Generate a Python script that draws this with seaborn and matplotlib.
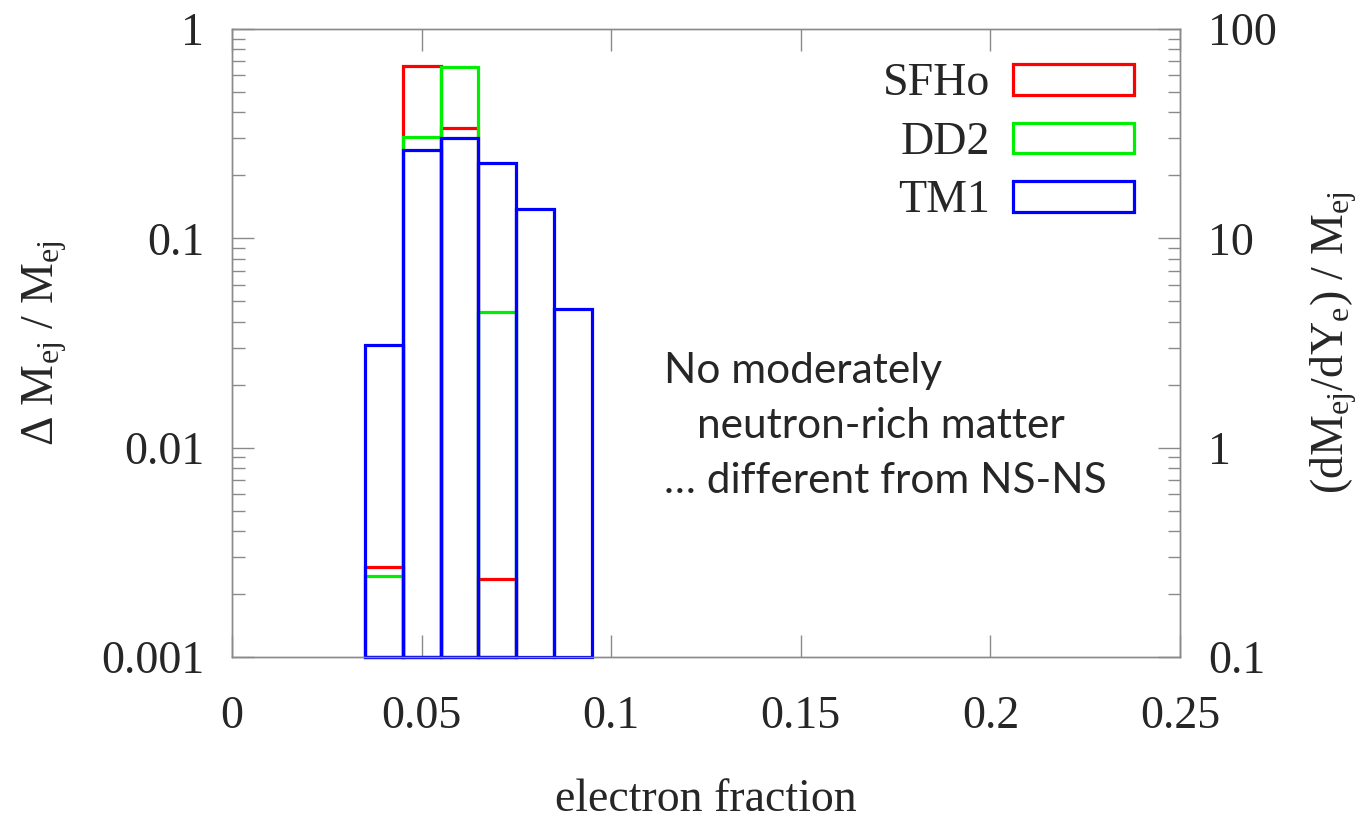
import numpy as np
import pandas as pd
import matplotlib
matplotlib.use("Agg")
import matplotlib.pyplot as plt
from matplotlib.patches import Patch
from matplotlib.ticker import FixedLocator, LogLocator, NullFormatter
import seaborn as sns

# Ejecta mass fraction per electron-fraction bin (bin width 0.01)
bin_width = 0.01
ye_sfho = [0.04, 0.05, 0.06, 0.07]
frac_sfho = [0.00268, 0.668, 0.338, 0.00236]
ye_dd2 = [0.04, 0.05, 0.06, 0.07]
frac_dd2 = [0.00243, 0.305, 0.66, 0.0443]
ye_tm1 = [0.04, 0.05, 0.06, 0.07, 0.08, 0.09]
frac_tm1 = [0.0309, 0.264, 0.303, 0.228, 0.138, 0.046]

models = ["SFHo", "DD2", "TM1"]
colors = {"SFHo": "#ff0000", "DD2": "#00ee00", "TM1": "#0000ff"}
series = {"SFHo": (ye_sfho, frac_sfho), "DD2": (ye_dd2, frac_dd2), "TM1": (ye_tm1, frac_tm1)}

x_ticks = [0, 0.05, 0.1, 0.15, 0.2, 0.25]
x_tick_labels = ["0", "0.05", "0.1", "0.15", "0.2", "0.25"]
y_ticks = [0.001, 0.01, 0.1, 1]
y_tick_labels = ["0.001", "0.01", "0.1", "1"]
y2_tick_labels = ["0.1", "1", "10", "100"]

sns.set_style("white")
plt.rcParams["font.family"] = ["Liberation Serif", "DejaVu Serif"]
plt.rcParams["mathtext.fontset"] = "custom"
plt.rcParams["mathtext.rm"] = "Liberation Serif"
plt.rcParams["mathtext.it"] = "Liberation Serif:italic"

frame_gray = "#8a8a8a"
fs = 33

fig = plt.figure(figsize=(13.67, 8.19), dpi=100)
ax = fig.add_axes([232 / 1367, 1 - 657 / 819, 948 / 1367, 628 / 819])

ymin, ymax = 1e-3, 1.0
for name in models:
    centers, values = series[name]
    df = pd.DataFrame({"ye": centers, "frac": values})
    edges = list(np.append(df["ye"].to_numpy() - bin_width / 2,
                           df["ye"].iloc[-1] + bin_width / 2))
    n_before = len(ax.patches)
    sns.histplot(data=df, x="ye", weights="frac", bins=edges, element="bars",
                 fill=False, color=colors[name], linewidth=2.3, ax=ax)
    # boxes start at the lower edge of the plotting range
    for p in ax.patches[n_before:]:
        top = p.get_y() + p.get_height()
        p.set_y(ymin)
        p.set_height(top - ymin)
        p.set_edgecolor(colors[name])
        p.set_facecolor("none")
        p.set_clip_on(False)
        p.set_zorder(3)

ax.set_yscale("log")
ax.set_xlim(0, 0.25)
ax.set_ylim(ymin, ymax)
ax.set_xticks(x_ticks)
ax.set_xticklabels(x_tick_labels)
ax.yaxis.set_major_locator(FixedLocator(y_ticks))
ax.set_yticklabels(y_tick_labels)
ax.yaxis.set_minor_locator(LogLocator(base=10, subs=np.arange(2, 10)))
ax.yaxis.set_minor_formatter(NullFormatter())

for s in ax.spines.values():
    s.set_color(frame_gray)
    s.set_linewidth(1.0)

ax.tick_params(axis="x", which="major", direction="in", length=16, width=1.0,
               color=frame_gray, top=True, bottom=True, labelsize=fs, pad=28)
ax.tick_params(axis="y", which="major", direction="in", length=16, width=1.0,
               color=frame_gray, left=True, right=False, labelsize=fs, pad=20)
ax.tick_params(axis="y", which="minor", direction="in", length=9, width=1.0,
               color=frame_gray, left=True, right=False)

# Right axis: distribution per unit Ye (fraction divided by bin width)
ax2 = ax.twinx()
ax2.set_yscale("log")
ax2.set_ylim(ymin / bin_width, ymax / bin_width)
ax2.yaxis.set_major_locator(FixedLocator([t / bin_width for t in y_ticks]))
ax2.set_yticklabels(y2_tick_labels)
ax2.yaxis.set_minor_locator(LogLocator(base=10, subs=np.arange(2, 10)))
ax2.yaxis.set_minor_formatter(NullFormatter())
for s in ax2.spines.values():
    s.set_color(frame_gray)
    s.set_linewidth(1.0)
ax2.tick_params(axis="y", which="major", direction="in", length=16, width=1.0,
                color=frame_gray, labelsize=fs, pad=20)
ax2.tick_params(axis="y", which="minor", direction="in", length=9, width=1.0,
                color=frame_gray)
ax2.grid(False)
ax.grid(False)

ax.set_xlabel("electron fraction", fontsize=fs, va="center")
ax.xaxis.set_label_coords(0.5, -0.228)
ax.set_ylabel("\u0394 M$_{\\rm ej}$ / M$_{\\rm ej}$", fontsize=fs, va="center")
ax.yaxis.set_label_coords(-0.197, 0.5)
ax2.set_ylabel("(dM$_{\\rm ej}$/dY$_{\\rm e}$) / M$_{\\rm ej}$", fontsize=fs,
               va="center", rotation=90)
ax2.yaxis.set_label_coords(1.162, 0.5)

handles = [Patch(facecolor="none", edgecolor=colors[m], linewidth=2.3, label=m)
           for m in models]
ax.legend(handles=handles, loc="upper right", bbox_to_anchor=(0.951, 0.946),
          frameon=False, markerfirst=False, fontsize=fs, borderpad=0,
          borderaxespad=0, handlelength=2.63, handleheight=0.65,
          handletextpad=0.5, labelspacing=0.35)

note_font = ["Lato", "DejaVu Sans"]
note_size = 30.5
fig.text(664 / 1367, 1 - 383 / 819, "No moderately", family=note_font,
         fontsize=note_size, va="baseline", ha="left")
fig.text(697 / 1367, 1 - 438 / 819, "neutron-rich matter", family=note_font,
         fontsize=note_size, va="baseline", ha="left")
fig.text(664 / 1367, 1 - 493 / 819, "\u2026 different from NS-NS", family=note_font,
         fontsize=note_size, va="baseline", ha="left")

fig.savefig("out.png", dpi=100)
